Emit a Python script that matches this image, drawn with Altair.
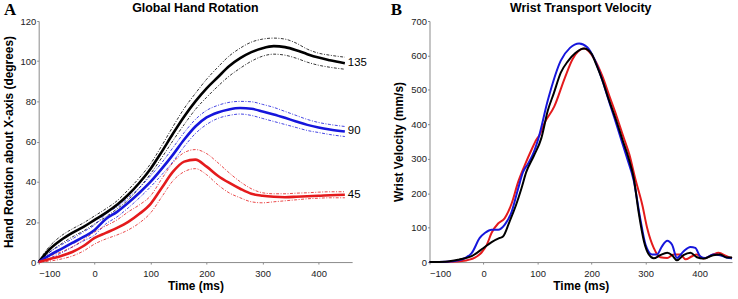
import altair as alt
import pandas as pd

FONT = "Liberation Sans"
BLACK, BLUE, RED = "#000000", "#1616dc", "#e41a1c"

# ---------------- Panel A: Global Hand Rotation ----------------
rot_t = [-100, -80, -60, -40, -20, 0, 20, 40, 60, 80, 100, 120, 140, 160, 180,
         200, 220, 240, 260, 280, 300, 320, 340, 360, 380, 400, 420, 447]

r135_mean = [0, 6.5, 11, 14.5, 17.5, 21, 24.5, 28.5, 33.5, 39.5, 46.5, 55, 64, 72.5, 80,
             86.5, 92, 97.5, 101.5, 104.5, 106.5, 107.5, 107, 105.5, 103.5, 101.8, 100.5, 99]
r135_up = [0.5, 8, 13, 16.5, 19.5, 23, 26.5, 30.5, 36, 42, 49, 58, 67.5, 76.5, 84,
           91, 97, 102.5, 106.5, 109.5, 111, 111.5, 111, 109, 106, 104, 103, 102]
r135_lo = [0, 5, 9, 12.5, 15.5, 19, 22.5, 26.5, 31, 37, 44, 52, 60.5, 68.5, 76,
           82, 87.5, 92.5, 96.5, 100, 102.5, 103.5, 103, 101.5, 99.5, 98, 97, 96]

r90_mean = [0, 3.5, 6.5, 9.5, 12.5, 16, 21.5, 25, 29.5, 34.5, 40, 46.5, 53.5, 61, 67.5,
            72, 74.5, 76, 76.7, 76.3, 75, 73.5, 71.8, 70, 68.3, 67, 66, 65]
r90_up = [0.5, 5, 8.5, 11.5, 15, 18.5, 24, 27.5, 32, 37, 43, 49.5, 57, 64.5, 71,
          75.5, 78, 79.5, 80, 79.8, 78.5, 77, 75, 73, 71, 69.5, 68.5, 67.5]
r90_lo = [0, 2, 4.5, 7.5, 10.5, 13.5, 19, 22.5, 27, 32, 37.5, 43.5, 50, 57.5, 64,
          68.5, 71.5, 73, 73.7, 73, 71.5, 70, 68.5, 67, 65.5, 64.5, 63.5, 62.5]

r45_mean = [0, 1.5, 3, 5, 8, 12, 14.5, 17, 20, 24, 29, 37, 45, 50, 51,
            47.5, 43, 39.5, 36.5, 34, 33, 32.5, 32.3, 32.5, 32.8, 33, 33.3, 33.5]
r45_up = [0.5, 3, 5, 7.5, 11, 15, 18, 21, 25, 28.5, 33, 41.5, 49.5, 54.5, 56,
          54, 49.5, 44.5, 40, 36.5, 34.5, 34, 34, 34.3, 34.5, 34.8, 35, 35]
r45_lo = [0, 0.5, 1.5, 3, 5.5, 9, 11.5, 13.5, 16, 19.5, 24.5, 32.5, 40.5, 45, 46.5,
          43.5, 38.5, 34.5, 32, 30, 29.5, 30, 30.5, 31, 31.5, 31.8, 32, 32]

rot_series = ["135", "90", "45"]
rot_colors = [BLACK, BLUE, RED]
rot_x_ticks = [-100, 0, 100, 200, 300, 400]
rot_y_ticks = [0, 20, 40, 60, 80, 100, 120]

# ---------------- Panel B: Wrist Transport Velocity ----------------
vb_t = [-100, -70, -46, -22, 0, 15, 30, 36, 48, 60, 70, 79, 93, 107, 119, 130, 143, 156,
        170, 186, 200, 208, 220, 232, 245, 257, 269, 278, 287, 297, 306, 315, 327, 340,
        349, 358, 370, 383, 395, 407, 425, 438, 450, 460]
vb_v = [0, 1, 7, 17, 41, 58, 70, 74, 117, 165, 213, 261, 308, 360, 440, 490, 550, 583,
        607, 620, 605, 576, 528, 471, 414, 356, 299, 244, 146, 60, 22, 11, 20, 27,
        20, 5, 20, 27, 14, 10, 20, 22, 13, 13]

vu_t = [-100, -70, -46, -22, -7, 3, 15, 27, 39, 52, 64, 73, 82, 90, 101, 119, 143, 160,
        177, 192, 205, 217, 230, 242, 254, 266, 278, 290, 300, 312, 321, 330, 340, 349,
        358, 370, 383, 392, 401, 410, 425, 438, 450, 460]
vu_v = [0, 1, 5, 26, 70, 85, 94, 94, 108, 146, 213, 261, 285, 308, 356, 470, 585, 622,
        635, 624, 590, 541, 478, 420, 360, 300, 237, 127, 50, 22, 22, 45, 62, 50,
        12, 31, 44, 41, 17, 12, 22, 20, 13, 11]

vr_t = [-100, -60, -40, -16, -4, 6, 15, 27, 39, 52, 64, 76, 89, 98, 104, 113, 131, 150,
        165, 186, 205, 220, 233, 246, 258, 270, 281, 294, 303, 315, 327, 340, 352, 364,
        374, 386, 395, 407, 425, 435, 450, 460]
vr_v = [0, 1, 3, 13, 27, 50, 85, 112, 127, 170, 232, 280, 327, 356, 370, 404, 452, 533,
        590, 620, 590, 540, 482, 425, 368, 312, 241, 165, 98, 41, 14, 12, 22, 22,
        8, 17, 22, 10, 22, 27, 17, 11]

vel_y_ticks = [0, 100, 200, 300, 400, 500, 600, 700]

# ---------------- data tables ----------------
mean_rows, band_rows = [], []
for name, m, u, l in [("135", r135_mean, r135_up, r135_lo),
                      ("90", r90_mean, r90_up, r90_lo),
                      ("45", r45_mean, r45_up, r45_lo)]:
    for t, a, b, c in zip(rot_t, m, u, l):
        mean_rows.append({"t": t, "v": a, "s": name})
        band_rows.append({"t": t, "v": b, "s": name, "side": "up"})
        band_rows.append({"t": t, "v": c, "s": name, "side": "lo"})
mean_df = pd.DataFrame(mean_rows)
band_df = pd.DataFrame(band_rows)
end_df = pd.DataFrame({"t": [rot_t[-1]] * 3,
                       "v": [r135_mean[-1], r90_mean[-1], r45_mean[-1]],
                       "s": rot_series})

vel_rows = []
for name, ts, vs in [("45", vr_t, vr_v), ("90", vu_t, vu_v), ("135", vb_t, vb_v)]:
    for t, v in zip(ts, vs):
        vel_rows.append({"t": t, "v": v, "s": name})
vel_df = pd.DataFrame(vel_rows)

color_scale = alt.Scale(domain=rot_series, range=rot_colors)


def header(letter, title, width, letter_x):
    """Panel letter and panel title drawn as text marks above the plot."""
    one = pd.DataFrame({"l": [letter], "h": [title]})
    let = alt.Chart(one).mark_text(
        font="Liberation Serif", fontWeight="bold", fontSize=17, align="left",
        baseline="alphabetic", color="#000"
    ).encode(x=alt.value(letter_x), y=alt.value(-6), text="l:N")
    tit = alt.Chart(one).mark_text(
        font=FONT, fontWeight="bold", fontSize=12.5, align="center",
        baseline="alphabetic", color="#000"
    ).encode(x=alt.value(width / 2), y=alt.value(-9), text="h:N")
    return [let, tit]


WA, WB, H = 316, 305, 243

xA = alt.X("t:Q", scale=alt.Scale(domain=[-100, 460], nice=False),
           axis=alt.Axis(values=rot_x_ticks, title="Time (ms)"))
yA = alt.Y("v:Q", scale=alt.Scale(domain=[0, 120], nice=False),
           axis=alt.Axis(values=rot_y_ticks, title="Hand Rotation about X-axis (degrees)"))

bands = alt.Chart(band_df).mark_line(
    strokeWidth=0.8, strokeDash=[3, 1.5, 1, 1.5], interpolate="monotone"
).encode(x=xA, y=yA, color=alt.Color("s:N", scale=color_scale, legend=None),
         detail="side:N")

means = alt.Chart(mean_df).mark_line(strokeWidth=2.6, interpolate="monotone").encode(
    x=xA, y=yA, color=alt.Color("s:N", scale=color_scale, legend=None))

end_labels = alt.Chart(end_df).mark_text(
    align="left", baseline="middle", dx=3, fontSize=11.5, font=FONT, color="#000"
).encode(x=xA, y=yA, text="s:N")

panelA = alt.layer(bands, means, end_labels,
                   *header("A", "Global Hand Rotation", WA, -35)).properties(width=WA, height=H)

xB = alt.X("t:Q", scale=alt.Scale(domain=[-100, 460], nice=False),
           axis=alt.Axis(values=rot_x_ticks, title="Time (ms)"))
yB = alt.Y("v:Q", scale=alt.Scale(domain=[0, 700], nice=False),
           axis=alt.Axis(values=vel_y_ticks, title="Wrist Velocity (mm/s)"))

vel_layers = []
for name in ["45", "90", "135"]:
    vel_layers.append(
        alt.Chart(vel_df).transform_filter(alt.datum.s == name)
        .mark_line(strokeWidth=2, interpolate="monotone")
        .encode(x=xB, y=yB, color=alt.Color("s:N", scale=color_scale, legend=None)))

panelB = alt.layer(*vel_layers,
                   *header("B", "Wrist Transport Velocity", WB, -39)).properties(width=WB, height=H)

chart = alt.hconcat(panelA, panelB, spacing=24).resolve_scale(color="shared").configure(
    padding={"left": 2, "top": 0, "right": 2, "bottom": 2},
    background="white",
    font=FONT,
).configure_view(stroke=None).configure_axis(
    grid=False, domainColor="#8a8a8a", tickColor="#8a8a8a", labelColor="#222",
    labelFont=FONT, titleFont=FONT, labelFontSize=9.5, titleFontSize=12,
    titleFontWeight="bold", titleColor="#000", tickSize=2,
).configure_axisX(labelPadding=5, titlePadding=2).configure_axisY(
    labelPadding=1, titlePadding=5)

chart.save("out.html", embed_options={"renderer": "svg", "actions": False})
